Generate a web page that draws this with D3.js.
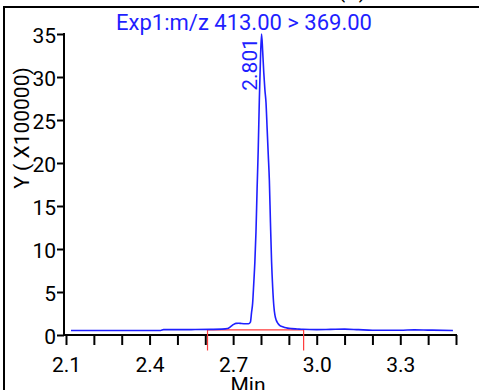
<!DOCTYPE html>
<html>
<head>
<meta charset="utf-8">
<script src="https://cdn.jsdelivr.net/npm/d3@7"></script>
<style>
  html, body { margin: 0; padding: 0; background: #fff; }
  svg { display: block; font-family: Roboto, "Liberation Sans", sans-serif; }
</style>
</head>
<body>
<svg id="chart" width="479" height="390"></svg>
<script>
// ---- data (intensity in units of x100000) ----
const chartTitle = "Exp1:m/z 413.00 > 369.00";
const panelLabel = "(A)";
const peakLabel = "2.801";
const peakTime = 2.802;
const peakValue = 35;
const xTickValues = [2.1, 2.2, 2.3, 2.4, 2.5, 2.6, 2.7, 2.8, 2.9, 3.0, 3.1, 3.2, 3.3, 3.4, 3.5];
const xTickLabels = ["2.1", "", "", "2.4", "", "", "2.7", "", "", "3.0", "", "", "3.3", "", ""];
const yTickValues = [0, 5, 10, 15, 20, 25, 30, 35];
const integrationStart = 2.608;
const integrationEnd = 2.953;
const integrationLevel = 0.6;

const retentionTimes = [
  2.118, 2.20, 2.30, 2.44, 2.45, 2.55, 2.62, 2.66, 2.68, 2.69, 2.70, 2.71, 2.72, 2.73, 2.745, 2.755,
  2.762, 2.766, 2.770, 2.774, 2.778, 2.782, 2.786, 2.790, 2.794, 2.798, 2.802,
  2.806, 2.810, 2.814, 2.818, 2.822, 2.826, 2.830, 2.834, 2.838, 2.842, 2.846, 2.850, 2.855, 2.861,
  2.868, 2.875, 2.885, 2.895, 2.910, 2.930, 2.950, 3.00, 3.05, 3.10, 3.15, 3.20, 3.30, 3.35, 3.40, 3.489
];
const intensity = [
  0.52, 0.52, 0.53, 0.53, 0.62, 0.63, 0.65, 0.68, 0.75, 0.95, 1.2, 1.35, 1.37, 1.33, 1.30, 1.30,
  1.5, 2.6, 3.7, 6.0, 8.5, 12.0, 17.0, 21.5, 27.3, 32.0, 35.0,
  33.0, 30.5, 28.5, 27.0, 24.0, 21.0, 18.0, 13.0, 8.5, 5.5, 3.4, 2.3, 1.7, 1.34,
  1.1, 1.0, 0.88, 0.80, 0.74, 0.70, 0.66, 0.62, 0.65, 0.68, 0.62, 0.56, 0.55, 0.60, 0.57, 0.52
];

// ---- drawing ----
const svg = d3.select("#chart");
const fontSize = 21;
const blue = "#1f1fff";
const red = "#ff3b3b";

const x = d3.scaleLinear().domain([2.1, 3.5]).range([66, 456]);
const y = d3.scaleLinear().domain([0, 35]).range([335, 34]);
const xAxisLeft = x(2.1) - 2;

// frame (top and left borders)
svg.append("line").attr("x1", 4).attr("x2", 479).attr("y1", 7).attr("y2", 7)
  .attr("stroke", "#000").attr("stroke-width", 2);
svg.append("line").attr("x1", 4).attr("x2", 4).attr("y1", 6).attr("y2", 390)
  .attr("stroke", "#000").attr("stroke-width", 2);

// panel label (cut off at top, as in the reference)
svg.append("text").attr("x", 352).attr("y", -2).attr("text-anchor", "middle")
  .attr("font-size", fontSize).attr("fill", "#000").text(panelLabel);

// title
svg.append("text").attr("x", 244).attr("y", 30).attr("text-anchor", "middle")
  .attr("font-size", 22).attr("fill", blue).text(chartTitle);

// x axis
const xAxis = d3.axisBottom(x).tickValues(xTickValues).tickSize(10).tickSizeOuter(0)
  .tickPadding(12).tickFormat((d, i) => xTickLabels[i]);
const gx = svg.append("g").attr("transform", `translate(0,${y(0)})`).call(xAxis);
gx.select(".domain").remove();
gx.selectAll(".tick line").attr("stroke", "#000").attr("stroke-width", 2);
gx.selectAll(".tick text").attr("font-size", fontSize).attr("font-family", "Roboto").attr("fill", "#000");
svg.append("line").attr("x1", xAxisLeft).attr("x2", x(3.5) + 1).attr("y1", y(0)).attr("y2", y(0))
  .attr("stroke", "#000").attr("stroke-width", 2);

// y axis
const yAxis = d3.axisLeft(y).tickValues(yTickValues).tickSize(7).tickSizeOuter(0)
  .tickPadding(1).tickFormat(d3.format("d"));
const gy = svg.append("g").attr("transform", `translate(${xAxisLeft},0)`).call(yAxis);
gy.select(".domain").remove();
gy.selectAll(".tick line").attr("stroke", "#000").attr("stroke-width", 2);
gy.selectAll(".tick text").attr("font-size", fontSize).attr("font-family", "Roboto").attr("fill", "#000")
  .attr("dy", "0.4em");
svg.append("line").attr("x1", xAxisLeft).attr("x2", xAxisLeft).attr("y1", y(35) - 1).attr("y2", y(0) + 1)
  .attr("stroke", "#000").attr("stroke-width", 2);

// axis titles
svg.append("text").attr("x", 248).attr("y", 392).attr("text-anchor", "middle")
  .attr("font-size", fontSize).attr("fill", "#000").text("Min");
svg.append("text").attr("transform", `translate(29,128) rotate(-90)`).attr("text-anchor", "middle")
  .attr("font-size", fontSize).attr("fill", "#000").text("Y ( X100000)");

// integration baseline
const redG = svg.append("g").attr("stroke", red).attr("stroke-width", 1.2).attr("fill", "none");
redG.append("line").attr("x1", x(integrationStart)).attr("x2", x(integrationEnd))
  .attr("y1", y(integrationLevel)).attr("y2", y(integrationLevel));
redG.append("line").attr("x1", x(integrationStart)).attr("x2", x(integrationStart))
  .attr("y1", y(integrationLevel)).attr("y2", y(-1.8));
redG.append("line").attr("x1", x(integrationEnd)).attr("x2", x(integrationEnd))
  .attr("y1", y(integrationLevel)).attr("y2", y(-1.8));

// trace
const line = d3.line().x((d, i) => x(retentionTimes[i])).y(d => y(d)).curve(d3.curveMonotoneX);
svg.append("path").datum(intensity).attr("d", line)
  .attr("fill", "none").attr("stroke", blue).attr("stroke-width", 1.6).attr("stroke-linejoin", "round");

// peak label
svg.append("text").attr("transform", `translate(${x(peakTime) - 5},${y(peakValue) + 4}) rotate(-90)`)
  .attr("text-anchor", "end").attr("font-size", fontSize).attr("fill", blue).text(peakLabel);
</script>
</body>
</html>
